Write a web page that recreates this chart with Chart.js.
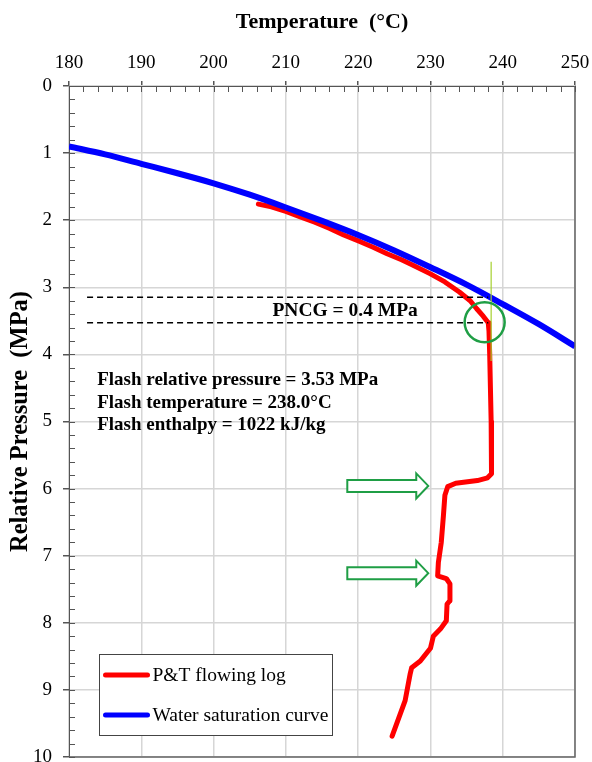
<!DOCTYPE html>
<html>
<head>
<meta charset="utf-8">
<script src="https://cdn.jsdelivr.net/npm/chart.js@4.4.0/dist/chart.umd.min.js"></script>
<style>
  html, body { margin: 0; padding: 0; background: #fff; }
  #chart { display: block; }
</style>
</head>
<body>
<canvas id="chart" width="592" height="762"></canvas>
<script>
// ── Data ──
// P&T flowing log (temperature °C, relative pressure MPa)
const logTemp  = [206.2, 208, 210, 212, 214, 216, 218, 220.3, 222, 224, 226, 227.6, 230, 232, 234, 235.5, 236.4, 237.3, 238.0,
                  238.1, 238.2, 238.3, 238.4, 238.5, 238.4, 237.9, 236.5, 233.5, 232.4, 232.0, 231.8, 231.5, 231.1, 231.0,
                  232.2, 232.7, 232.7, 232.3, 232.2, 231.4, 230.4, 230.0, 228.6, 227.4, 227.2, 226.5, 224.7];
const logPress = [1.76, 1.80, 1.87, 1.95, 2.03, 2.12, 2.22, 2.32, 2.40, 2.50, 2.59, 2.67, 2.80, 2.92, 3.07, 3.20, 3.32, 3.43, 3.53,
                  3.65, 4.00, 4.50, 5.00, 5.50, 5.78, 5.84, 5.88, 5.92, 5.97, 6.10, 6.40, 6.80, 7.10, 7.30,
                  7.34, 7.42, 7.67, 7.72, 7.97, 8.09, 8.20, 8.38, 8.57, 8.67, 8.76, 9.16, 9.69];

// Water saturation curve
const satTemp  = [180, 185, 190, 195, 200, 205, 210, 215, 220, 225, 230, 235, 240, 245, 250];
const satPress = [0.90, 1.02, 1.16, 1.30, 1.45, 1.62, 1.81, 2.01, 2.22, 2.45, 2.70, 2.96, 3.25, 3.55, 3.88];

const tempRange  = [180, 250];
const pressRange = [0, 10];

// Annotations (data units)
const flashT = 238.0, flashP = 3.53, pncgP = 3.15;
const arrowPress = [5.96, 7.26];
const flashLines = ['Flash relative pressure = 3.53 MPa', 'Flash temperature = 238.0°C', 'Flash enthalpy = 1022 kJ/kg'];

const SERIF = '"Liberation Serif", "Times New Roman", serif';
const GREEN = '#1f9e45';

// ── Decorations: inner ticks, frame, annotations, legend ──
const decor = {
  id: 'decor',
  afterDatasetsDraw(chart) {
    const ctx = chart.ctx, a = chart.chartArea;
    const xs = chart.scales.x, ys = chart.scales.y;
    const X = v => xs.getPixelForValue(v), Y = v => ys.getPixelForValue(v);
    ctx.save();

    // frame right/bottom
    ctx.strokeStyle = '#666'; ctx.lineWidth = 1.5;
    ctx.beginPath();
    ctx.moveTo(a.right, a.top); ctx.lineTo(a.right, a.bottom); ctx.lineTo(a.left, a.bottom);
    ctx.stroke();

    // inner ticks
    ctx.strokeStyle = '#555'; ctx.lineWidth = 1;
    ctx.beginPath();
    for (let i = 0; i <= 35; i++) {
      const px = Math.round(X(tempRange[0] + i * 2)) + 0.5;
      ctx.moveTo(px, a.top); ctx.lineTo(px, a.top + 6);
    }
    for (let i = 0; i <= 50; i++) {
      const py = Math.round(Y(i * 0.2)) + 0.5;
      ctx.moveTo(a.left, py); ctx.lineTo(a.left + 6, py);
    }
    ctx.stroke();

    // dashed PNCG lines
    ctx.strokeStyle = '#000'; ctx.lineWidth = 1.5; ctx.setLineDash([6, 4]);
    ctx.beginPath();
    [pncgP, flashP].forEach(p => { ctx.moveTo(X(182.5), Y(p)); ctx.lineTo(X(flashT), Y(p)); });
    ctx.stroke();
    ctx.setLineDash([]);

    // thin yellow-green vertical marker
    ctx.strokeStyle = '#a6d12e'; ctx.lineWidth = 1.2;
    ctx.beginPath(); ctx.moveTo(X(238.4), Y(2.62)); ctx.lineTo(X(238.4), Y(4.1)); ctx.stroke();

    // circle at flash point
    ctx.strokeStyle = GREEN; ctx.lineWidth = 2.5;
    ctx.beginPath(); ctx.arc(X(237.5), Y(3.52), 20, 0, Math.PI * 2); ctx.stroke();

    // arrows
    ctx.lineWidth = 2; ctx.fillStyle = '#fff';
    arrowPress.forEach(p => {
      const x0 = X(218.5), x1 = X(229.7), yc = Y(p);
      ctx.beginPath();
      ctx.moveTo(x0, yc - 6); ctx.lineTo(x1 - 12, yc - 6); ctx.lineTo(x1 - 12, yc - 12.5);
      ctx.lineTo(x1, yc); ctx.lineTo(x1 - 12, yc + 12.5); ctx.lineTo(x1 - 12, yc + 6);
      ctx.lineTo(x0, yc + 6); ctx.closePath();
      ctx.fill(); ctx.stroke();
    });

    // texts
    ctx.fillStyle = '#000';
    ctx.font = 'bold 19.5px ' + SERIF;
    ctx.textAlign = 'center'; ctx.textBaseline = 'middle';
    ctx.fillText('PNCG = 0.4 MPa', X(218.2), Y((pncgP + flashP) / 2) + 1);
    ctx.font = 'bold 19px ' + SERIF;
    ctx.textAlign = 'left'; ctx.textBaseline = 'alphabetic';
    flashLines.forEach((t, i) => ctx.fillText(t, X(183.9), Y(4.46) + i * 22.5));

    // legend
    const lx = 99.5, ly = 654.5, lw = 233, lh = 81;
    ctx.fillStyle = '#fff'; ctx.fillRect(lx, ly, lw, lh);
    ctx.strokeStyle = '#444'; ctx.lineWidth = 1; ctx.strokeRect(lx, ly, lw, lh);
    ctx.font = '19.5px ' + SERIF; ctx.textBaseline = 'middle';
    chart.data.datasets.forEach((ds, i) => {
      const yy = ly + 20.5 + i * 40;
      ctx.strokeStyle = ds.borderColor; ctx.lineWidth = 5; ctx.lineCap = 'round';
      ctx.beginPath(); ctx.moveTo(lx + 6, yy); ctx.lineTo(lx + 48, yy); ctx.stroke();
      ctx.fillStyle = '#000'; ctx.fillText(ds.label, lx + 53, yy + 1);
    });
    ctx.restore();
  }
};

// ── Chart ──
const toPoints = (xs, ys) => xs.map((x, i) => ({ x, y: ys[i] }));

new Chart(document.getElementById('chart'), {
  type: 'scatter',
  data: {
    datasets: [
      {
        label: 'P&T flowing log', data: toPoints(logTemp, logPress),
        showLine: true, borderColor: '#ff0000', borderWidth: 5, pointRadius: 0,
        tension: 0, borderJoinStyle: 'round', borderCapStyle: 'round', order: 2
      },
      {
        label: 'Water saturation curve', data: toPoints(satTemp, satPress),
        showLine: true, borderColor: '#0000ff', borderWidth: 6, pointRadius: 0,
        cubicInterpolationMode: 'monotone', order: 1
      }
    ]
  },
  options: {
    responsive: false, animation: false, devicePixelRatio: 1,
    layout: { autoPadding: false, padding: { left: 0, right: 17, top: 0, bottom: 5 } },
    plugins: { legend: { display: false }, tooltip: { enabled: false } },
    scales: {
      x: {
        type: 'linear', position: 'top', min: tempRange[0], max: tempRange[1],
        afterFit: s => { s.height = 86; s.paddingLeft = 0; s.paddingRight = 0; },
        ticks: { stepSize: 10, color: '#000', padding: 7, font: { family: SERIF, size: 19 } },
        grid: { color: '#d6d6d6', lineWidth: 1.5, tickLength: 5, tickColor: '#555' },
        border: { color: '#555', width: 1 },
        title: { display: true, text: 'Temperature  (°C)', color: '#000', padding: { top: 9, bottom: 0 },
                 font: { family: SERIF, size: 22, weight: 'bold' } }
      },
      y: {
        type: 'linear', reverse: true, min: pressRange[0], max: pressRange[1],
        afterFit: s => { s.width = 69; s.paddingTop = 0; s.paddingBottom = 0; },
        ticks: { stepSize: 1, color: '#000', padding: 11, font: { family: SERIF, size: 19 } },
        grid: { color: '#d6d6d6', lineWidth: 1.5, tickLength: 6, tickColor: '#555' },
        border: { color: '#555', width: 1 },
        title: { display: true, text: 'Relative Pressure  (MPa)', color: '#000', padding: { top: 6, bottom: 0 },
                 font: { family: SERIF, size: 24.5, weight: 'bold' } }
      }
    }
  },
  plugins: [decor]
});
</script>
</body>
</html>
